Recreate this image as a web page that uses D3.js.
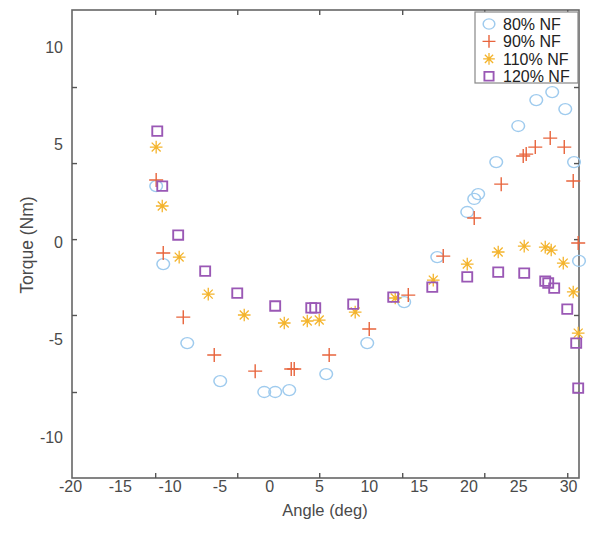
<!DOCTYPE html>
<html>
<head>
<meta charset="utf-8">
<script src="https://cdn.jsdelivr.net/npm/d3@7"></script>
<style>
  body { margin: 0; background: #fff; }
  text { font-family: "Liberation Sans", Arial, sans-serif; }
</style>
</head>
<body>
<div id="container"></div>
<script>
// Chart size
var width = 594;
var height = 533;

// Tick labels
var xTicks = [-20, -15, -10, -5, 0, 5, 10, 15, 20, 25, 30];
var yTicks = [-10, -5, 0, 5, 10];
// Tick marks on the frame (they do not sit on the labels in the original)
var xTickMarks = [-11.45, -3.21, 5.02, 13.35, 21.59, 29.92];
var yTickMarks = [7.95, 4.05, 0.15, -3.74, -7.69];

// Series names
var seriesNames = ["80% NF", "90% NF", "110% NF", "120% NF"];

// [angle (deg), torque (Nm)] for each series
var nf80 = [
  [-11.35, 2.87], [-10.64, -1.13], [-8.23, -5.18], [-4.92, -7.13], [-0.50, -7.69],
  [0.60, -7.69], [2.01, -7.59], [5.72, -6.77], [9.84, -5.18], [13.55, -3.08],
  [16.87, -0.77], [19.88, 1.54], [20.58, 2.21], [20.98, 2.46], [22.79, 4.10],
  [25.00, 5.95], [26.81, 7.28], [28.41, 7.69], [29.72, 6.82], [30.60, 4.10],
  [31.10, -0.97]
];
var nf90 = [
  [-11.35, 3.18], [-10.64, -0.56], [-8.63, -3.85], [-5.52, -5.79], [-1.41, -6.62],
  [2.21, -6.51], [2.51, -6.51], [6.02, -5.79], [10.04, -4.46], [13.96, -2.72],
  [17.47, -0.72], [20.58, 1.23], [23.29, 2.97], [25.50, 4.41], [25.80, 4.51],
  [26.71, 4.87], [28.21, 5.33], [29.62, 4.87], [30.52, 3.13], [31.02, -0.05]
];
var nf110 = [
  [-11.35, 4.87], [-10.74, 1.85], [-9.04, -0.77], [-6.12, -2.67], [-2.51, -3.74],
  [1.51, -4.15], [3.82, -4.05], [5.02, -4.00], [8.63, -3.59], [12.65, -2.87],
  [16.47, -1.95], [19.88, -1.13], [22.99, -0.51], [25.60, -0.21], [27.71, -0.26],
  [28.31, -0.41], [29.52, -1.08], [30.52, -2.56], [31.02, -4.67]
];
var nf120 = [
  [-11.24, 5.69], [-10.74, 2.87], [-9.14, 0.36], [-6.43, -1.49], [-3.21, -2.62],
  [0.60, -3.28], [4.22, -3.38], [4.62, -3.38], [8.43, -3.18], [12.45, -2.82],
  [16.37, -2.31], [19.88, -1.79], [22.99, -1.54], [25.60, -1.59], [27.71, -2.00],
  [28.01, -2.10], [28.61, -2.36], [29.92, -3.44], [30.82, -5.18], [31.02, -7.49]
];

// Marker shapes (outlined, MATLAB style)
var plusShape = { draw: function (c, size) {
  var r = Math.sqrt(size) / 2;
  c.moveTo(-r, 0); c.lineTo(r, 0); c.moveTo(0, -r); c.lineTo(0, r);
}};
var starShape = { draw: function (c, size) {
  var r = Math.sqrt(size) / 2, d = r * 0.7071;
  c.moveTo(-r, 0); c.lineTo(r, 0); c.moveTo(0, -r); c.lineTo(0, r);
  c.moveTo(-d, -d); c.lineTo(d, d); c.moveTo(-d, d); c.lineTo(d, -d);
}};
var squareShape = { draw: function (c, size) {
  var r = Math.sqrt(size) / 2;
  c.rect(-r, -r, 2 * r, 2 * r);
}};

var series = [
  { name: seriesNames[0], data: nf80, shape: d3.symbolCircle, size: 95, color: "#9fcbee", sw: 1.3, sx: 1.15 },
  { name: seriesNames[1], data: nf90, shape: plusShape, size: 196, color: "#e8643c", sw: 1.4, sx: 1 },
  { name: seriesNames[2], data: nf110, shape: starShape, size: 160, color: "#f4b42c", sw: 1.3, sx: 1 },
  { name: seriesNames[3], data: nf120, shape: squareShape, size: 90, color: "#9a58b5", sw: 1.8, sx: 1.05 }
];

// Create SVG
var svg = d3.select("#container")
  .append("svg")
  .attr("width", width)
  .attr("height", height);

// Scales
var x = d3.scaleLinear().domain([-19.8, 31.1]).range([72, 579]);
var y = d3.scaleLinear().domain([-12.1, 11.9]).range([478, 10]);

// Plot frame
svg.append("rect")
  .attr("x", x(-19.8)).attr("y", y(11.9))
  .attr("width", x(31.1) - x(-19.8)).attr("height", y(-12.1) - y(11.9))
  .attr("fill", "none").attr("stroke", "#666").attr("stroke-width", 1.6);

// Tick marks (inside, on all four sides)
function marks(axis, tx, ty) {
  var g = svg.append("g").attr("transform", "translate(" + tx + "," + ty + ")")
    .call(axis.tickSizeInner(-5).tickSizeOuter(0).tickFormat(""));
  g.select(".domain").remove();
  g.selectAll("line").attr("stroke", "#555").attr("stroke-width", 1.4);
}
marks(d3.axisBottom(x).tickValues(xTickMarks), 0, y(-12.1));
marks(d3.axisTop(x).tickValues(xTickMarks), 0, y(11.9));
marks(d3.axisLeft(y).tickValues(yTickMarks), x(-19.8), 0);
marks(d3.axisRight(y).tickValues(yTickMarks), x(31.1), 0);

// Tick labels (plain hyphen for negatives, like the original)
var plain = function (d) { return String(d); };
var xAxis = svg.append("g")
  .attr("transform", "translate(0," + y(-12.1) + ")")
  .call(d3.axisBottom(x).tickValues(xTicks).tickFormat(plain).tickSize(0).tickPadding(3));
var yAxis = svg.append("g")
  .attr("transform", "translate(" + x(-19.8) + ",0)")
  .call(d3.axisLeft(y).tickValues(yTicks).tickFormat(plain).tickSize(0).tickPadding(9));
[xAxis, yAxis].forEach(function (g) {
  g.select(".domain").remove();
  g.selectAll("text")
    .attr("font-family", "Liberation Sans, Arial, sans-serif")
    .attr("font-size", 16).attr("fill", "#4a4a4a");
});

// Axis titles
svg.append("text")
  .attr("x", 325).attr("y", 516)
  .attr("text-anchor", "middle").attr("font-size", 16.5).attr("fill", "#4a4a4a")
  .text("Angle (deg)");
svg.append("text")
  .attr("transform", "translate(33,245) rotate(-90)")
  .attr("text-anchor", "middle").attr("font-size", 17.5).attr("fill", "#4a4a4a")
  .text("Torque (Nm)");

// Points
series.forEach(function (s) {
  var sym = d3.symbol().type(s.shape).size(s.size);
  svg.append("g").selectAll("path")
    .data(s.data)
    .enter()
    .append("path")
    .attr("d", sym)
    .attr("transform", function (d) {
      return "translate(" + x(d[0]) + "," + y(d[1]) + ") scale(" + s.sx + ",1)";
    })
    .attr("fill", "none")
    .attr("stroke", s.color)
    .attr("stroke-width", s.sw);
});

// Legend
var legend = svg.append("g");
legend.append("rect")
  .attr("x", 475).attr("y", 12).attr("width", 103).attr("height", 71)
  .attr("fill", "#fff").attr("stroke", "#888").attr("stroke-width", 1.2);
var items = legend.selectAll("g.item")
  .data(series)
  .enter()
  .append("g")
  .attr("transform", function (d, i) { return "translate(489," + (24 + i * 17.4) + ")"; });
items.append("path")
  .attr("d", function (d) { return d3.symbol().type(d.shape).size(d.size * 0.85)(); })
  .attr("transform", function (d) { return "scale(" + d.sx + ",1)"; })
  .attr("fill", "none")
  .attr("stroke", function (d) { return d.color; })
  .attr("stroke-width", function (d) { return d.sw; });
items.append("text")
  .attr("x", 14).attr("dy", "0.36em")
  .attr("font-size", 16).attr("fill", "#222")
  .text(function (d) { return d.name; });
</script>
</body>
</html>
